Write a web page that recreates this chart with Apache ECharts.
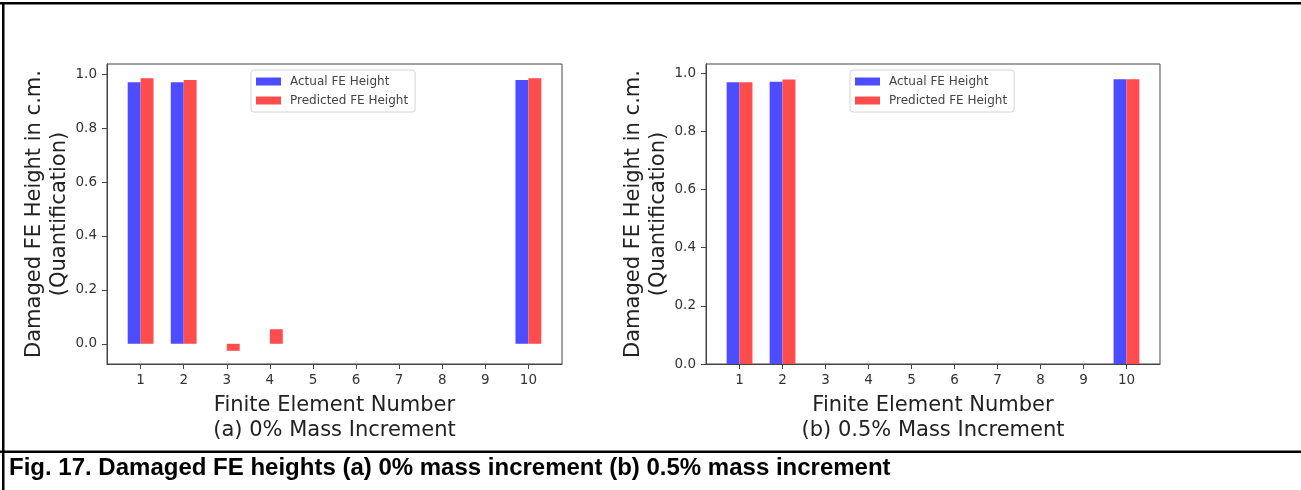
<!DOCTYPE html>
<html><head><meta charset="utf-8">
<script src="https://cdn.jsdelivr.net/npm/echarts@6/dist/echarts.min.js"></script>
<style>html,body{margin:0;padding:0;background:#fff}#c{width:1301px;height:490px}</style>
</head><body><div id="c"></div>
<script>
// ---- data ----
const elements = [1, 2, 3, 4, 5, 6, 7, 8, 9, 10];
const actualA = [0.970, 0.970, 0, 0, 0, 0, 0, 0, 0, 0.979];
const predictedA = [0.985, 0.979, -0.026, 0.054, 0, 0, 0, 0, 0, 0.985];
const actualB = [0.968, 0.970, 0, 0, 0, 0, 0, 0, 0, 0.979];
const predictedB = [0.968, 0.978, 0, 0, 0, 0, 0, 0, 0, 0.979];
const yTicks = [0, 0.2, 0.4, 0.6, 0.8, 1.0];
const seriesNames = ['Actual FE Height', 'Predicted FE Height'];
const xTitles = ['Finite Element Number\n(a) 0% Mass Increment', 'Finite Element Number\n(b) 0.5% Mass Increment'];
const yTitle = 'Damaged FE Height in c.m.\n(Quantification)';
const caption = 'Fig. 17. Damaged FE heights (a) 0% mass increment (b) 0.5% mass increment';

// ---- styling ----
const FONT = 'DejaVu Sans';
const BLUE = '#4d4dff', RED = '#ff4d4d';
const AX = '#444';
const grids = [
  { left: 107, top: 64, width: 455, height: 300 },
  { left: 706, top: 64, width: 454, height: 300 }
];
const yRanges = [[-0.075, 1.038], [0, 1.031]];
const legendLeft = [251, 850];

function pairs(arr) { return elements.map((e, i) => [e, arr[i]]); }

const option = {
  animation: false,
  backgroundColor: '#fff',
  title: {
    text: caption, left: 9, top: 456, padding: 0,
    textStyle: { fontFamily: 'Liberation Sans', fontWeight: 'bold', fontSize: 24, color: '#000' }
  },
  grid: grids.map(g => Object.assign({ show: true, borderColor: AX, borderWidth: 1, backgroundColor: 'transparent' }, g)),
  legend: legendLeft.map(l => ({
    data: seriesNames, left: l, top: 70, orient: 'vertical',
    itemWidth: 25, itemHeight: 8, itemGap: 6, icon: 'rect',
    padding: [5, 7, 5, 5],
    borderColor: '#d4d4d4', borderWidth: 1, borderRadius: 3, backgroundColor: '#fff',
    textStyle: { fontFamily: FONT, fontSize: 12, lineHeight: 13, color: '#444', padding: [0, 0, 0, 4] },
    selectedMode: false
  })),
  xAxis: [0, 1].map(i => ({
    type: 'value', gridIndex: i, min: 0.22, max: 10.78,
    splitLine: { show: false },
    axisLine: { show: true, onZero: false, lineStyle: { color: AX, width: 1 } },
    axisTick: { show: true, length: 5, lineStyle: { color: AX }, customValues: elements },
    axisLabel: { customValues: elements, fontFamily: FONT, fontSize: 13.5, color: '#333', margin: 9 },
    name: xTitles[i], nameLocation: 'middle', nameGap: 29,
    nameTextStyle: { fontFamily: FONT, fontSize: 21, lineHeight: 25, color: '#222' }
  })),
  yAxis: [0, 1].map(i => ({
    type: 'value', gridIndex: i, min: yRanges[i][0], max: yRanges[i][1],
    splitLine: { show: false },
    axisLine: { show: true, onZero: false, lineStyle: { color: AX, width: 1 } },
    axisTick: { show: true, length: 5, lineStyle: { color: AX }, customValues: yTicks },
    axisLabel: { customValues: yTicks, formatter: v => v.toFixed(1), fontFamily: FONT, fontSize: 13.5, color: '#333', margin: 10 },
    name: yTitle, nameLocation: 'middle', nameGap: 35, nameRotate: 90,
    nameTextStyle: { fontFamily: FONT, fontSize: 21, lineHeight: 25, color: '#222', align: 'center' }
  })),
  series: [
    { name: seriesNames[0], data: pairs(actualA), xAxisIndex: 0, yAxisIndex: 0 },
    { name: seriesNames[1], data: pairs(predictedA), xAxisIndex: 0, yAxisIndex: 0 },
    { name: seriesNames[0], data: pairs(actualB), xAxisIndex: 1, yAxisIndex: 1 },
    { name: seriesNames[1], data: pairs(predictedB), xAxisIndex: 1, yAxisIndex: 1 }
  ].map((s, k) => Object.assign({
    type: 'bar', barWidth: '30%', barGap: '0%',
    itemStyle: { color: k % 2 === 0 ? BLUE : RED }
  }, s)),
  graphic: [
    { type: 'rect', shape: { x: 0, y: 2, width: 1301, height: 2.5 }, style: { fill: '#000' }, silent: true },
    { type: 'rect', shape: { x: 2, y: 2, width: 2.5, height: 490 }, style: { fill: '#000' }, silent: true },
    { type: 'rect', shape: { x: 0, y: 450.5, width: 1301, height: 2.5 }, style: { fill: '#000' }, silent: true }
  ]
};

const chart = echarts.init(document.getElementById('c'), null, { renderer: 'canvas' });
chart.setOption(option);
</script>
</body></html>
